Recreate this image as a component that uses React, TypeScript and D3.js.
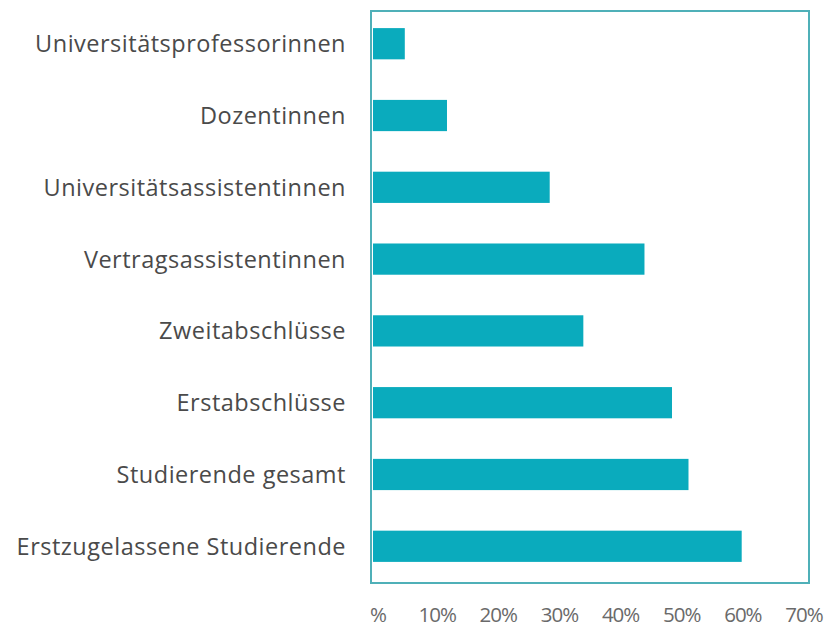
import React from "react";
import * as d3 from "d3";

const categories = [
  "Universitätsprofessorinnen",
  "Dozentinnen",
  "Universitätsassistentinnen",
  "Vertragsassistentinnen",
  "Zweitabschlüsse",
  "Erstabschlüsse",
  "Studierende gesamt",
  "Erstzugelassene Studierende",
];
const values = [5.2, 12.1, 28.9, 44.4, 34.4, 48.9, 51.6, 60.3];
const tickValues = [0, 10, 20, 30, 40, 50, 60, 70];
const tickLabels = ["%", "10%", "20%", "30%", "40%", "50%", "60%", "70%"];

const W = 836;
const H = 627;

export default function App() {
  const x = d3.scaleLinear().domain([0, 70]).range([373, 801]);
  const y = d3
    .scaleBand<string>()
    .domain(categories)
    .range([8, 582])
    .paddingInner(0.565)
    .paddingOuter(0.28);
  const font = "'Open Sans', 'Noto Sans', sans-serif";
  return (
    <svg
      width={W}
      height={H}
      style={{ position: "absolute", left: 0, top: 0, background: "#fff" }}
    >
      <rect x={0} y={0} width={W} height={H} fill="#fff" />
      {categories.map((c, i) => (
        <rect
          key={c}
          x={x(0)}
          y={y(c)}
          width={x(values[i]) - x(0)}
          height={y.bandwidth()}
          fill="#0aabbd"
        />
      ))}
      <rect
        x={371}
        y={11}
        width={438}
        height={572}
        fill="none"
        stroke="#4fb0b8"
        strokeWidth={2}
      />
      {categories.map((c) => (
        <text
          key={c}
          x={346}
          y={(y(c) as number) + y.bandwidth() / 2}
          dy="0.36em"
          textAnchor="end"
          fontFamily={font}
          fontSize={23.5}
          fill="#4a4a4a"
          letterSpacing={0.5}
        >
          {c}
        </text>
      ))}
      {tickValues.map((t, i) => (
        <text
          key={t}
          x={x(t) + (i === 0 ? 5 : 3)}
          y={622}
          textAnchor="middle"
          fontFamily={font}
          fontSize={20.5}
          fill="#6a6a6a"
          letterSpacing={-1}
        >
          {tickLabels[i]}
        </text>
      ))}
    </svg>
  );
}
